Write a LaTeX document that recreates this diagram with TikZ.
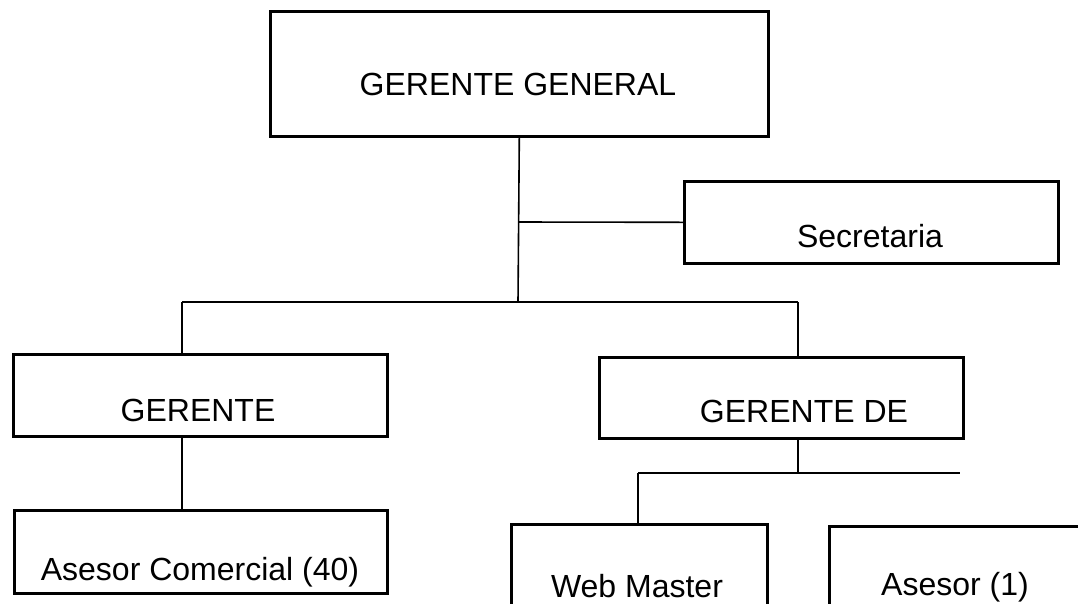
\documentclass[tikz,border=0pt]{standalone}
\usepackage{fontspec}
\setmainfont{Liberation Sans}
\begin{document}
\begin{tikzpicture}[x=1pt,y=-1pt,
  box/.style={draw=black, line width=2.6pt, rectangle, inner sep=0pt, anchor=north west},
  lbl/.style={inner sep=0pt, anchor=base, font=\fontsize{32}{38}\selectfont},
  link/.style={draw=black, line width=1.6pt}]
  % page frame
  \useasboundingbox (0,0) rectangle (1078,603);
  \clip (0,0) rectangle (1078,603);
  \fill[white] (0,0) rectangle (1078,603);

  % boxes
  \node[box, minimum width=498pt, minimum height=125pt] (gg)  at (269,10)  {};
  \node[box, minimum width=374pt, minimum height=82pt]  (sec) at (683,180) {};
  \node[box, minimum width=374pt, minimum height=82pt]  (ger) at (12,353)  {};
  \node[box, minimum width=364pt, minimum height=81pt]  (gde) at (598,356) {};
  \node[box, minimum width=373pt, minimum height=83pt]  (ase) at (13,509)  {};
  \node[box, minimum width=256pt, minimum height=120pt] (web) at (510,523) {};
  \node[box, minimum width=280pt, minimum height=120pt] (asr) at (828,525) {};

  % texts
  \node[lbl] (ggt)  at (518,95)  {GERENTE GENERAL};
  \node[lbl] (sect) at (870,247) {Secretaria};
  \node[lbl] (gert) at (198,421) {GERENTE};
  \node[lbl] (gdet) at (804,422) {GERENTE DE};
  \node[lbl] (aset) at (200,580) {Asesor Comercial (40)};
  \node[lbl] (webt) at (637,597) {Web Master};
  \node[lbl] (asrt) at (955,595) {Asesor (1)};

  % junction points
  \coordinate (jsec) at (518,222);
  \coordinate (jmid) at (518,302);
  \coordinate (jl)   at (182,302);
  \coordinate (jr)   at (798,302);
  \coordinate (jgde) at (798,473);
  \coordinate (jwl)  at (638,473);
  \coordinate (jwr)  at (960,473);

  % connectors
  \draw[link] (gg.south) -- (jmid);
  \draw[link] (jsec) -- (sec.west);
  \draw[link] (jl) -- (jr);
  \draw[link] (jl) -- (jl |- ger.north);
  \draw[link] (jr) -- (jr |- gde.north);
  \draw[link] (jl |- ger.south) -- (jl |- ase.north);
  \draw[link] (jr |- gde.south) -- (jgde);
  \draw[link] (jwl) -- (jwr);
  \draw[link] (jwl) -- (jwl |- web.north);
\end{tikzpicture}
\end{document}
